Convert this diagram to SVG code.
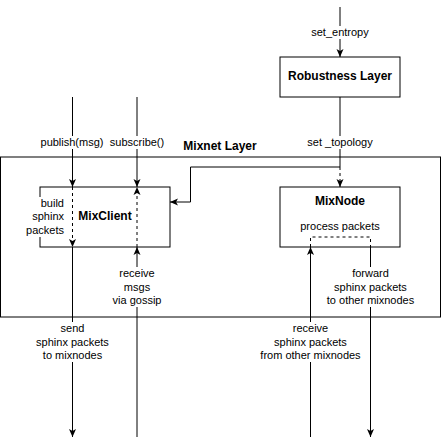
<svg xmlns="http://www.w3.org/2000/svg" width="442" height="446" viewBox="0 0 442 446">
<defs>
<style>
.box{fill:#fff;stroke:#000;stroke-width:1}
.layer{fill:none;stroke:#000;stroke-width:1}
.ln{fill:none;stroke:#000;stroke-width:1}
.dash{fill:none;stroke:#000;stroke-width:1;stroke-dasharray:3 3}
.t{font-family:"Liberation Sans",Arial,sans-serif;font-size:11px;fill:#000}
.c{text-anchor:middle}
.b{font-weight:bold;font-size:12px}
.bg{fill:#fff}
</style>
<marker id="arr" markerWidth="8" markerHeight="8" viewBox="0 0 8 8" refX="8" refY="4" orient="auto" markerUnits="userSpaceOnUse">
<path d="M0,0.5 L8,4 L0,7.5 L2,4 Z" fill="#000"/>
</marker>
</defs>
<rect width="442" height="446" fill="#fff"/>
<g id="mixnet-layer">
<rect class="layer" x="0.5" y="157" width="440" height="160"/>
<text class="t b c" x="220" y="150">Mixnet Layer</text>
</g>
<g id="robustness-layer">
<rect class="box" x="280" y="57" width="120" height="40"/>
<text class="t b c" x="340" y="80">Robustness Layer</text>
</g>
<g id="mixclient">
<rect class="box" x="40" y="187" width="130" height="60"/>
<text class="t b c" x="105" y="220">MixClient</text>
</g>
<g id="mixnode">
<rect class="box" x="280" y="187" width="120" height="60"/>
<text class="t b c" x="340" y="205">MixNode</text>
<text class="t c" x="340" y="230">process packets</text>
</g>
<g id="connectors">
<!-- publish -->
<path class="ln" d="M72.5,97 V187" marker-end="url(#arr)"/>
<path class="dash" d="M72.5,187 V247" marker-end="url(#arr)"/>
<path class="ln" d="M72.5,247 V437" marker-end="url(#arr)"/>
<!-- subscribe -->
<path class="ln" d="M137,97 V187" marker-end="url(#arr)"/>
<path class="dash" d="M137,247 V187" marker-end="url(#arr)"/>
<path class="ln" d="M137,437 V247" marker-end="url(#arr)"/>
<!-- set_entropy -->
<path class="ln" d="M340,7 V57" marker-end="url(#arr)"/>
<!-- set_topology -->
<path class="ln" d="M340,97 V167 H190.5 V202 H170" marker-end="url(#arr)"/>
<path class="dash" d="M340,167 V187" marker-end="url(#arr)"/>
<!-- mixnode in/out -->
<path class="ln" d="M310.5,437 V247" marker-end="url(#arr)"/>
<path class="dash" d="M310.5,247 V237 H370.5 V247"/>
<path class="ln" d="M370.5,247 V437" marker-end="url(#arr)"/>
</g>
<g id="labels">
<rect class="bg" x="40" y="136" width="64" height="13"/>
<text class="t c" x="72" y="146">publish(msg)</text>
<rect class="bg" x="109" y="136" width="56" height="13"/>
<text class="t c" x="137" y="146">subscribe()</text>
<rect class="bg" x="311" y="26" width="58" height="13"/>
<text class="t c" x="340" y="36">set_entropy</text>
<rect class="bg" x="306" y="136" width="68" height="13"/>
<text class="t c" x="340" y="146">set _topology</text>
<rect class="bg" x="27" y="197" width="38" height="40"/>
<text class="t" text-anchor="end" x="64" y="206.5">build</text>
<text class="t" text-anchor="end" x="64" y="220">sphinx</text>
<text class="t" text-anchor="end" x="64" y="233.5">packets</text>
<rect class="bg" x="113" y="267" width="48" height="40"/>
<text class="t c" x="137" y="277">receive</text>
<text class="t c" x="137" y="290.5">msgs</text>
<text class="t c" x="137" y="304">via gossip</text>
<rect class="bg" x="36" y="322" width="74" height="40"/>
<text class="t c" x="72.5" y="332">send</text>
<text class="t c" x="72.5" y="345.5">sphinx packets</text>
<text class="t c" x="72.5" y="359">to mixnodes</text>
<rect class="bg" x="327" y="267" width="87" height="40"/>
<text class="t c" x="370.5" y="277">forward</text>
<text class="t c" x="370.5" y="290.5">sphinx packets</text>
<text class="t c" x="370.5" y="304">to other mixnodes</text>
<rect class="bg" x="259" y="322" width="103" height="40"/>
<text class="t c" x="310.5" y="332">receive</text>
<text class="t c" x="310.5" y="345.5">sphinx packets</text>
<text class="t c" x="310.5" y="359">from other mixnodes</text>
</g>
</svg>
